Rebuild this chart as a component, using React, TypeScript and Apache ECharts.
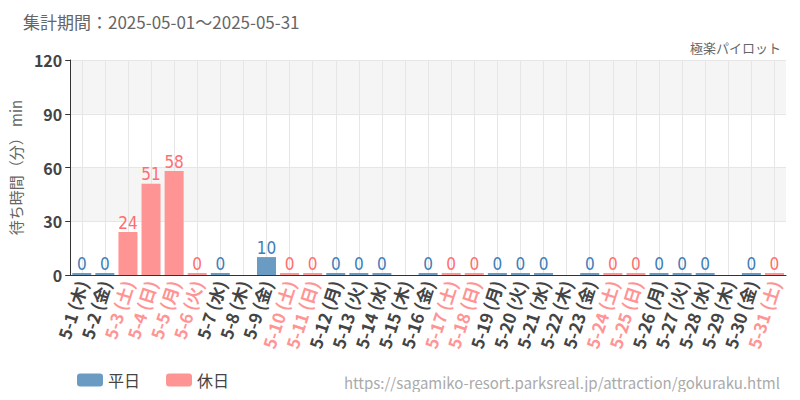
import React, { useEffect, useRef } from "react";
import * as echarts from "echarts";

const DAYS = [
    "5-1 (木)", "5-2 (金)", "5-3 (土)", "5-4 (日)", "5-5 (月)", "5-6 (火)", "5-7 (水)", "5-8 (木)",
    "5-9 (金)", "5-10 (土)", "5-11 (日)", "5-12 (月)", "5-13 (火)", "5-14 (水)", "5-15 (木)", "5-16 (金)",
    "5-17 (土)", "5-18 (日)", "5-19 (月)", "5-20 (火)", "5-21 (水)", "5-22 (木)", "5-23 (金)", "5-24 (土)",
    "5-25 (日)", "5-26 (月)", "5-27 (火)", "5-28 (水)", "5-29 (木)", "5-30 (金)", "5-31 (土)",
];
const HOLIDAY = [
    false, false, true, true, true, true, false, false,
    false, true, true, false, false, false, false, false,
    true, true, false, false, false, false, false, true,
    true, false, false, false, false, false, true,
];
// null = closed (no record)
const WAIT: (number | null)[] = [
    0, 0, 24, 51, 58, 0, 0, null,
    10, 0, 0, 0, 0, 0, null, 0,
    0, 0, 0, 0, 0, null, 0, 0,
    0, 0, 0, 0, null, 0, 0,
];
const Y_TICKS = [0, 30, 60, 90, 120];

const BLUE = "#6a9bc3";
const RED = "#ff9494";
const FONT = "'Noto Sans CJK JP', 'Noto Sans', sans-serif";

const weekday = WAIT.map((v, i) => (HOLIDAY[i] ? null : v));
const holiday = WAIT.map((v, i) => (HOLIDAY[i] ? v : null));

const App: React.FC = () => {
    const ref = useRef<HTMLDivElement | null>(null);

    useEffect(() => {
        if (!ref.current) return;
        const inst = echarts.init(ref.current, undefined, { renderer: "svg" });

        const barLabel = (color: string) => ({
            show: true,
            position: "top" as const,
            distance: 1,
            color,
            fontSize: 17,
            fontFamily: "'DejaVu Sans Condensed', 'Liberation Sans Narrow', sans-serif",
        });

        inst.setOption({
            animation: false,
            textStyle: { fontFamily: FONT },
            title: [
                {
                    text: "集計期間：2025-05-01～2025-05-31",
                    left: 18,
                    top: 8,
                    textStyle: { fontSize: 17, fontWeight: "normal", color: "#666", fontFamily: FONT },
                },
                {
                    text: "極楽パイロット",
                    right: 14,
                    top: 36,
                    textStyle: { fontSize: 13, fontWeight: "normal", color: "#666", fontFamily: FONT },
                },
            ],
            legend: {
                left: 72,
                bottom: 7,
                itemWidth: 26,
                itemHeight: 13,
                itemGap: 26,
                textStyle: { fontSize: 16, color: "#444", fontFamily: FONT },
                data: ["平日", "休日"],
            },
            graphic: [
                {
                    type: "text",
                    right: 20,
                    bottom: 10,
                    style: {
                        text: "https://sagamiko-resort.parksreal.jp/attraction/gokuraku.html",
                        fill: "#aaa",
                        fontSize: 15,
                        fontFamily: FONT,
                    },
                },
            ],
            grid: { left: 70, right: 14, top: 60, bottom: 125 },
            xAxis: {
                type: "category",
                data: DAYS,
                axisLine: { lineStyle: { color: "#333" } },
                axisTick: { alignWithLabel: true, length: 4, lineStyle: { color: "#333" } },
                splitLine: { show: true, alignWithLabel: true, lineStyle: { color: "#e6e6e6" } },
                axisLabel: {
                    interval: 0,
                    rotate: 72,
                    fontSize: 17,
                    fontWeight: "bold",
                    margin: 6,
                    fontFamily: FONT,
                    color: (_v: string, i: number) => (HOLIDAY[i] ? RED : "#444"),
                },
            },
            yAxis: {
                type: "value",
                min: Y_TICKS[0],
                max: Y_TICKS[Y_TICKS.length - 1],
                interval: 30,
                name: "待ち時間（分） min",
                nameLocation: "middle",
                nameGap: 46,
                nameTextStyle: { fontSize: 15, color: "#666", fontFamily: FONT },
                axisLine: { show: true, lineStyle: { color: "#333" } },
                axisTick: { show: true, length: 5, lineStyle: { color: "#333" } },
                axisLabel: { fontSize: 16, color: "#444", fontWeight: "bold", margin: 8 },
                splitLine: { lineStyle: { color: "#e6e6e6" } },
                splitArea: { show: true, areaStyle: { color: ["#ffffff", "#f5f5f5"] } },
            },
            series: [
                {
                    name: "平日",
                    type: "bar",
                    stack: "d",
                    barWidth: 19,
                    barMinHeight: 2,
                    itemStyle: { color: BLUE },
                    label: barLabel("#3d7eb8"),
                    data: weekday,
                },
                {
                    name: "休日",
                    type: "bar",
                    stack: "d",
                    barWidth: 19,
                    barMinHeight: 2,
                    itemStyle: { color: RED },
                    label: barLabel("#ff6e6e"),
                    data: holiday,
                },
            ],
        });

        return () => inst.dispose();
    }, []);

    return <div ref={ref} style={{ width: 800, height: 400, margin: -8 }} />;
};

export default App;
